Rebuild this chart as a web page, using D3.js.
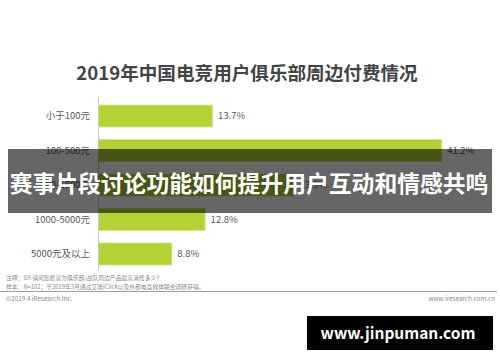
<!DOCTYPE html>
<html><head><meta charset="utf-8">
<script src="https://cdn.jsdelivr.net/npm/d3@7"></script>
<style>
html,body{margin:0;padding:0;background:#fff;}
svg{display:block;}
text{font-family:"Noto Sans CJK SC","Noto Sans",sans-serif;}
</style></head>
<body>
<svg id="chart" width="500" height="362"></svg>
<script>
const title = "2019年中国电竞用户俱乐部周边付费情况";
const categories = ["小于100元","100-500元","500-1000元","1000-5000元","5000元及以上"];
const values = [13.7, 41.2, 23.5, 12.8, 8.8];
const valueLabels = ["13.7%","41.2%","23.5%","12.8%","8.8%"];
const notes = ["注释：G9.请问您愿意为俱乐部/战队周边产品最高消费多少？",
               "样本：N=102；于2019年3月通过艾瑞iClick以及外部电竞媒体联合调研获得。"];
const copyright = "©2019.4 iResearch Inc.";
const site = "www.iresearch.com.cn";
const banner = "赛事片段讨论功能如何提升用户互动和情感共鸣";
const watermark = "www.jinpuman.com";

const svg = d3.select("#chart");

svg.append("text").attr("x", 247).attr("y", 80).attr("text-anchor","middle")
  .attr("font-size", 18.6).attr("font-weight","bold").attr("fill","#444").text(title);

const x = d3.scaleLinear().domain([0, 50]).range([98.5, 98.5 + 416.5]);
const y = d3.scaleBand().domain(categories).range([105, 265]).paddingInner(0.362).paddingOuter(0);

const data = categories.map((c,i)=>({c, v: values[i], l: valueLabels[i]}));

svg.selectAll("rect.bar").data(data).join("rect").attr("class","bar")
  .attr("x", x(0)).attr("y", d=>y(d.c)).attr("width", d=>x(d.v)-x(0)).attr("height", y.bandwidth())
  .attr("fill","#b3d334").attr("stroke","#d2e585").attr("stroke-width",0.8);

svg.append("line").attr("x1", x(0)).attr("x2", x(0)).attr("y1", 97).attr("y2", 270)
  .attr("stroke","#c8c8c8").attr("stroke-width",1);

svg.selectAll("text.cat").data(data).join("text").attr("class","cat")
  .attr("x", 90).attr("y", d=>y(d.c)+y.bandwidth()/2).attr("dy","0.35em")
  .attr("text-anchor","end").attr("font-size",9.5).attr("fill","#595959").text(d=>d.c);

svg.selectAll("text.val").data(data).join("text").attr("class","val")
  .attr("x", d=>x(d.v)+5.5).attr("y", d=>y(d.c)+y.bandwidth()/2).attr("dy","0.35em")
  .attr("font-size",9.5).attr("fill","#595959").text(d=>d.l);

svg.selectAll("text.note").data(notes).join("text").attr("class","note")
  .attr("x", 6).attr("y", (d,i)=>280.2 + i*8.4).attr("font-size",5.8).attr("fill","#8a8a8a").text(d=>d);

svg.append("line").attr("x1", 0).attr("x2", 497).attr("y1", 291.5).attr("y2", 291.5)
  .attr("stroke","#a0a0a0").attr("stroke-width",1);

svg.append("text").attr("x", 6).attr("y", 300.5).attr("font-size",6.3).attr("fill","#8a8a8a").text(copyright);
svg.append("text").attr("x", 495).attr("y", 300.5).attr("text-anchor","end").attr("font-size",6.3).attr("fill","#8a8a8a").text(site);

svg.append("rect").attr("x", 8).attr("y", 149).attr("width", 484).attr("height", 64).attr("fill","rgba(0,0,0,0.6)");
svg.append("text").attr("x", 249).attr("y", 192).attr("text-anchor","middle")
  .attr("font-size",22.8).attr("font-weight","bold").attr("fill","#fff").text(banner);

svg.append("rect").attr("x", 307).attr("y", 316).attr("width", 186).attr("height", 34).attr("fill","#000");
svg.append("text").attr("x", 398).attr("y", 339).attr("text-anchor","middle")
  .attr("font-family","'Open Sans','DejaVu Sans',sans-serif")
  .attr("font-size",15.5).attr("font-weight","bold").attr("fill","#fff").text(watermark);
</script>
</body></html>
